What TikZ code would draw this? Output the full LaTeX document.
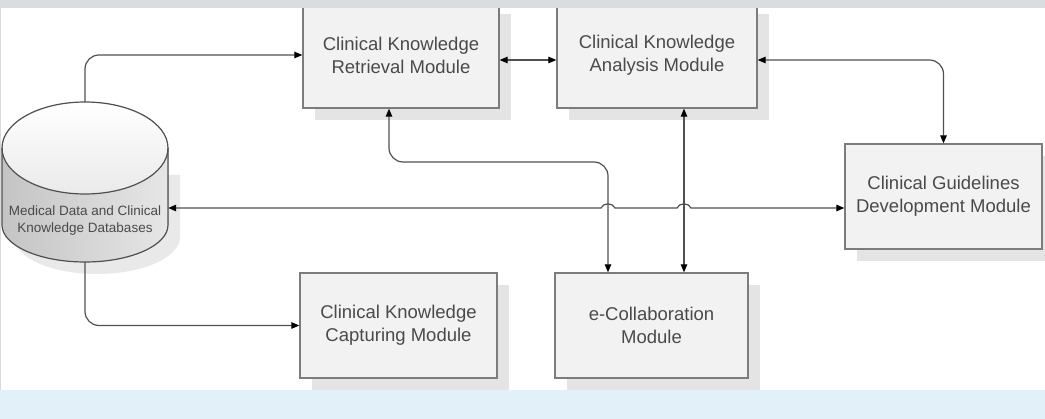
\documentclass[tikz,border=0pt]{standalone}
\usepackage{fontspec}
\setmainfont{Liberation Sans}
\usetikzlibrary{arrows.meta,shadows}
\definecolor{linec}{HTML}{505050}
\definecolor{boxdraw}{HTML}{7C7C7C}
\definecolor{boxfill}{HTML}{F2F2F2}
\definecolor{shadowc}{HTML}{E4E4E4}
\definecolor{cylshadow}{HTML}{E9E9E9}
\definecolor{textc}{HTML}{4A4A4A}
\definecolor{topband}{HTML}{DADCDE}
\definecolor{botband}{HTML}{E2F1F9}
\definecolor{cylleft}{HTML}{C4C4C4}
\definecolor{cylright}{HTML}{E6E6E6}
\definecolor{cyltop}{HTML}{EAEAEA}
\begin{document}
\begin{tikzpicture}[x=1pt,y=-1pt,
  modbox/.style={draw=boxdraw, line width=1.3pt, fill=boxfill, align=center,
    text=textc, font=\fontsize{18.5}{23}\selectfont, inner sep=0pt,
    drop shadow={shadow xshift=12pt, shadow yshift=-12pt, fill=shadowc, opacity=1}},
  conn/.style={draw=linec, line width=1.2pt, rounded corners=14pt},
  tip/.tip={Triangle[length=8pt,width=6.5pt,color=black]}
]
\useasboundingbox (0,0) rectangle (1045,419);
\fill[white] (0,0) rectangle (1045,419);

% cylinder database
\fill[cylshadow] (14,175) -- (14,237) arc[start angle=180,end angle=360,x radius=83pt,y radius=37pt] -- (180,175) -- cycle;
\fill[left color=cylleft, right color=cylright]
  (2,148) -- (2,225) arc[start angle=180,end angle=360,x radius=83pt,y radius=37pt]
  -- (168,148) arc[start angle=0,end angle=180,x radius=83pt,y radius=46pt] -- cycle;
\fill[top color=white, bottom color=cyltop] (85,148) ellipse [x radius=83, y radius=46];
\draw[linec, line width=1.2pt]
  (2,148) -- (2,225) arc[start angle=180,end angle=360,x radius=83pt,y radius=37pt]
  -- (168,148) arc[start angle=0,end angle=180,x radius=83pt,y radius=46pt];
\draw[linec, line width=1.2pt] (2,148) arc[start angle=180,end angle=360,x radius=83pt,y radius=46pt];
\node[minimum width=166pt, minimum height=160pt, inner sep=0pt] (db) at (85,182) {};
\node[align=center, text=textc, font=\fontsize{13.5}{17}\selectfont] (dblabel) at (85,221)
  {Medical Data and Clinical\\Knowledge Databases};

% modules
\node[modbox, minimum width=196pt, minimum height=106pt] (ret) at (401,55)
  {Clinical Knowledge\\Retrieval Module};
\node[modbox, minimum width=200pt, minimum height=106pt] (ana) at (657,55)
  {Clinical Knowledge\\Analysis Module};
\node[modbox, minimum width=197pt, minimum height=105pt] (gl) at (943.5,196.5)
  {Clinical Guidelines\\Development Module};
\node[modbox, minimum width=197pt, minimum height=105pt] (cap) at (398.5,325.5)
  {Clinical Knowledge\\Capturing Module};
\node[modbox, minimum width=193pt, minimum height=105pt] (ecol) at (651.5,325.5)
  {e-Collaboration\\Module};

% helper coordinates
\coordinate (hy) at (0,208);
\coordinate (bend) at (608,162);
\coordinate (v2) at (684,0);

% connectors
\draw[conn, -{tip}] (db.north) |- (ret.west);
\draw[conn, {tip}-{tip}] ([yshift=-5pt]ret.east) -- ([yshift=-5pt]ana.west);
\draw[conn, {tip}-{tip}] ([yshift=-5pt]ana.east) -| (gl.north);
\draw[conn, {tip}-{tip}] ([xshift=-12pt]ret.south) |- (bend) -- (ecol.north -| bend);
\draw[conn, {tip}-{tip}] (ana.south -| v2) -- (ecol.north -| v2);
\draw[conn, rounded corners=0pt, {tip}-{tip}] (db.east |- hy) -- (601,208)
  .. controls (603,202.5) and (613,202.5) .. (615,208) -- (677,208)
  .. controls (679,202.5) and (689,202.5) .. (691,208) -- (gl.west |- hy);
\draw[conn, -{tip}] (db.south) |- (cap.west);

% frame bands
\fill[topband] (0,0) rectangle (1045,8);
\fill[botband] (0,390) rectangle (1045,419);
\draw[black!15, line width=1pt] (0.5,8) -- (0.5,390);
\end{tikzpicture}
\end{document}
